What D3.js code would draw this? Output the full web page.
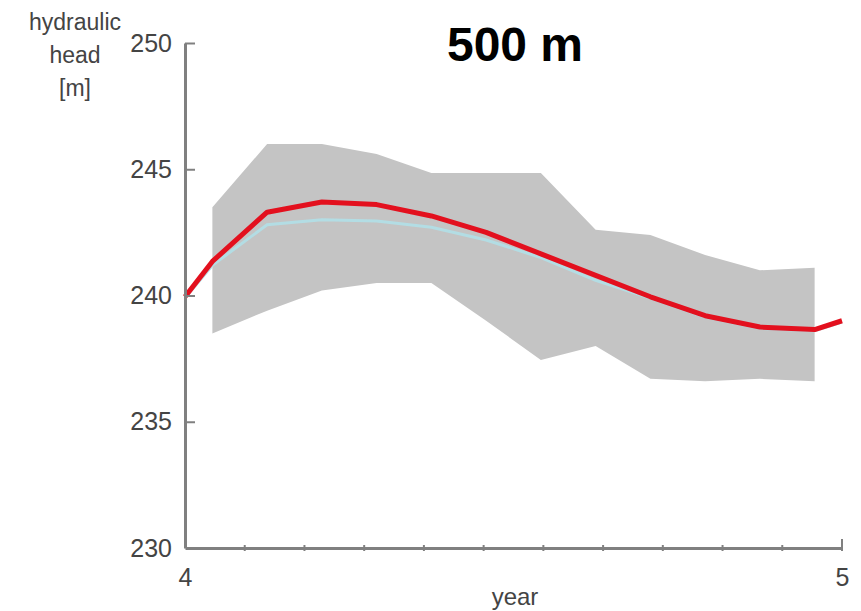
<!DOCTYPE html>
<html>
<head>
<meta charset="utf-8">
<script src="https://cdn.jsdelivr.net/npm/d3@7"></script>
<style>
  body { margin: 0; background: #fff; }
  text { font-family: "Liberation Sans", Arial, sans-serif; }
</style>
</head>
<body>
<script>
var width = 861, height = 611

// band (ensemble range) at mid-month times
var bandMonths = d3.range(12).map(function(k) { return 4 + (k + 0.5) / 12 })
var bandUpper = [243.5, 246.0, 246.0, 245.6, 244.85, 244.85, 244.85, 242.6, 242.4, 241.6, 241.0, 241.1]
var bandLower = [238.5, 239.4, 240.2, 240.5, 240.5, 239.0, 237.45, 238.0, 236.7, 236.6, 236.7, 236.6]

// line times: start, mid-months, end
var lineTimes = [4].concat(bandMonths, [5])
var headRed = [239.95, 241.35, 243.3, 243.7, 243.6, 243.15, 242.5, 241.65, 240.8, 239.95, 239.2, 238.75, 238.65, 239.0]
var headCyan = [239.9, 241.2, 242.8, 243.0, 242.95, 242.7, 242.2, 241.5, 240.6, 239.9, 239.15, 238.7, 238.6, 238.95]

var yTicks = [230, 235, 240, 245, 250]
var xTicks = [4, 5]
var xMinor = d3.range(1, 11).map(function(i) { return 4 + i / 11 })

var x = d3.scaleLinear().domain([4, 5]).range([185, 842])
var y = d3.scaleLinear().domain([230, 250]).range([548, 43])

var svg = d3.select("body").append("svg")
    .attr("width", width)
    .attr("height", height)

var band = bandMonths.map(function(t, i) { return {t: t, lo: bandLower[i], hi: bandUpper[i]} })

svg.append("path")
    .datum(band)
    .attr("fill", "#c4c4c4")
    .attr("d", d3.area()
      .x(function(d) { return x(d.t) })
      .y0(function(d) { return y(d.lo) })
      .y1(function(d) { return y(d.hi) }))

var line = d3.line()
    .x(function(d) { return x(d[0]) })
    .y(function(d) { return y(d[1]) })

svg.append("path")
    .datum(lineTimes.map(function(t, i) { return [t, headCyan[i]] }))
    .attr("fill", "none")
    .attr("stroke", "#b3dde4")
    .attr("stroke-width", 3)
    .attr("d", line)

svg.append("path")
    .datum(lineTimes.map(function(t, i) { return [t, headRed[i]] }))
    .attr("fill", "none")
    .attr("stroke", "#e3101e")
    .attr("stroke-width", 5)
    .attr("stroke-linejoin", "round")
    .attr("d", line)

// y axis
var yAxis = svg.append("g")
    .attr("transform", "translate(" + x(4) + ",0)")
    .call(d3.axisLeft(y).tickValues(yTicks).tickSize(-10).tickSizeOuter(0).tickPadding(13))
yAxis.select(".domain").attr("stroke", "#808080").attr("stroke-width", 3)
yAxis.selectAll(".tick line").attr("stroke", "#808080").attr("stroke-width", 2)
yAxis.selectAll(".tick text").attr("font-size", 25).attr("fill", "#444")
yAxis.selectAll(".tick").filter(function(d) { return d === 230 }).select("line").remove()

// x axis
var xAxis = svg.append("g")
    .attr("transform", "translate(0," + y(230) + ")")
    .call(d3.axisBottom(x).tickValues(xTicks).tickFormat(d3.format("d"))
      .tickSize(0).tickSizeOuter(0).tickPadding(20))
xAxis.select(".domain").attr("stroke", "#808080").attr("stroke-width", 3)
xAxis.selectAll(".tick text").attr("font-size", 25).attr("fill", "#444")

xAxis.selectAll(".minor")
    .data(xMinor.concat([5]))
  .enter().append("line")
    .attr("class", "minor")
    .attr("x1", function(d) { return x(d) })
    .attr("x2", function(d) { return x(d) })
    .attr("y1", function(d) { return d === 5 ? -9 : -3 })
    .attr("y2", 3)
    .attr("stroke", "#808080")
    .attr("stroke-width", 2)

svg.append("text")
    .attr("x", 515).attr("y", 605)
    .attr("text-anchor", "middle")
    .attr("font-size", 24)
    .attr("fill", "#444")
    .text("year")

svg.append("g")
    .selectAll("text")
    .data(["hydraulic", "head", "[m]"])
  .enter().append("text")
    .attr("x", 75)
    .attr("y", function(d, i) { return 30 + i * 33 })
    .attr("text-anchor", "middle")
    .attr("font-size", 23)
    .attr("fill", "#444")
    .text(function(d) { return d })

svg.append("text")
    .attr("x", 515).attr("y", 61)
    .attr("text-anchor", "middle")
    .attr("font-size", 48)
    .attr("font-weight", "bold")
    .attr("fill", "#000")
    .text("500 m")
</script>
</body>
</html>
